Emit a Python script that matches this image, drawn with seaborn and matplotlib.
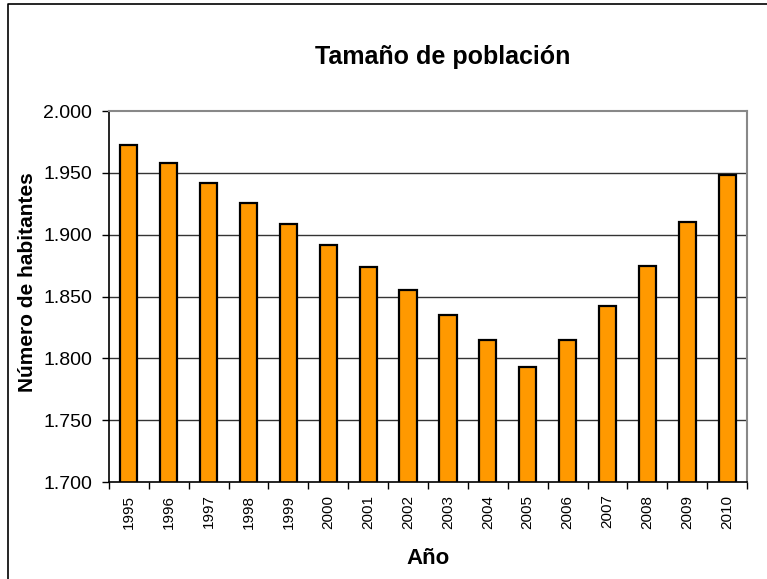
import numpy as np
import pandas as pd
import seaborn as sns
from matplotlib import pyplot as plt
from matplotlib.lines import Line2D
from matplotlib.ticker import FuncFormatter, FixedLocator

years = ['1995', '1996', '1997', '1998', '1999', '2000', '2001', '2002',
         '2003', '2004', '2005', '2006', '2007', '2008', '2009', '2010']
habitantes = [1973, 1958, 1942, 1926, 1909, 1892, 1874, 1855,
              1835, 1815, 1793, 1815, 1842, 1875, 1910, 1948]
y_ticks = [1700, 1750, 1800, 1850, 1900, 1950, 2000]

df = pd.DataFrame({'Año': years, 'Habitantes': habitantes})

sns.set_style("white")
plt.rcParams['font.family'] = ['Liberation Sans', 'DejaVu Sans']
plt.rcParams['text.color'] = 'black'
plt.rcParams['axes.labelcolor'] = 'black'
plt.rcParams['xtick.color'] = 'black'
plt.rcParams['ytick.color'] = 'black'

fig = plt.figure(figsize=(7.67, 5.79), dpi=100)
ax = fig.add_axes([0.142, 0.1675, 0.832, 0.6405])

for t in y_ticks[1:-1]:
    ax.axhline(t, color='#333333', linewidth=1, zorder=0)

sns.barplot(data=df, x='Año', y='Habitantes', color='#FF9900', width=0.43,
            edgecolor='black', linewidth=1.6, saturation=1, ax=ax, zorder=2)

ax.set_ylim(1700, 2000)
ax.set_xlim(-0.5, len(years) - 0.5)
ax.set_yticks(y_ticks)
ax.yaxis.set_major_formatter(FuncFormatter(lambda v, p: f"{int(v):,}".replace(',', '.')))
ax.tick_params(axis='y', direction='out', length=5, width=1,
               labelsize=14, left=True, pad=7)

ax.xaxis.set_minor_locator(FixedLocator(np.arange(-0.5, len(years), 1)))
ax.tick_params(axis='x', which='major', length=0, labelsize=11, rotation=90, pad=9)
ax.tick_params(axis='x', which='minor', direction='out', length=5, width=1,
               bottom=True)

for side in ['left', 'bottom']:
    ax.spines[side].set_color('black')
    ax.spines[side].set_linewidth(1.2)
for side in ['top', 'right']:
    ax.spines[side].set_color('#888888')
    ax.spines[side].set_linewidth(1.5)

ax.set_xlabel('Año', fontsize=16, fontweight='bold', labelpad=14)
ax.set_ylabel('Número de habitantes', fontsize=15, fontweight='bold')
ax.yaxis.set_label_coords(-0.112, 0.54)
fig.text(0.577, 0.901, 'Tamaño de población', fontsize=18, fontweight='bold',
         ha='center', va='center')

# frame of the chart area (top and left edges visible)
fig.lines.append(Line2D([0.0105, 0.0105, 1.0], [0.0, 0.993, 0.993],
                        transform=fig.transFigure, color='black', linewidth=1.2))

plt.savefig('out.png', dpi=100)
plt.close()
